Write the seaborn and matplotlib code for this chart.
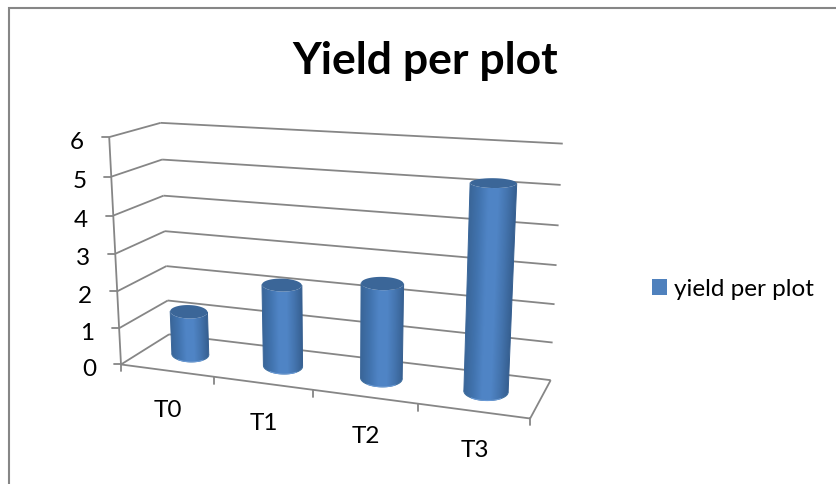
import numpy as np
import matplotlib
matplotlib.use("Agg")
import matplotlib.pyplot as plt
from matplotlib.colors import LinearSegmentedColormap
from matplotlib.patches import Patch, Polygon
import seaborn as sns

categories = ["T0", "T1", "T2", "T3"]
yield_per_plot = [1.2, 2.2, 2.5, 5.2]
value_ticks = [0, 1, 2, 3, 4, 5, 6]
series_name = "yield per plot"
chart_title = "Yield per plot"

sns.set_theme(style="white")
plt.rcParams["font.family"] = ["Lato", "DejaVu Sans"]

W, H = 836, 485
fig = plt.figure(figsize=(W / 100, H / 100), dpi=100, facecolor="white")

# Bar geometry comes from a seaborn barplot on a hidden value axes.
value_ax = fig.add_axes([0, 0, 1, 1])
sns.barplot(x=categories, y=yield_per_plot, width=0.41, ax=value_ax)
bars = [(p.get_x() + p.get_width() / 2 + 0.5, p.get_width() / 2, p.get_height())
        for p in value_ax.patches]
value_ax.set_visible(False)

ax = fig.add_axes([0, 0, 1, 1])
ax.axis("off")

# Camera: (category, value, depth) to canvas pixels, solved from the box corners.
anchors = [
    ((0, 0, 0), (121, 366)), ((4, 0, 0), (530, 419.3)),
    ((0, 0, 1), (169, 335)), ((4, 0, 1), (550.7, 381)),
    ((0, 6, 0), (109, 138.3)), ((0, 6, 1), (160.7, 124)),
    ((4, 6, 1), (562.7, 144.3)), ((4, 3, 1), (556.7, 266.7)),
    ((0, 3, 1), (165, 232.3)), ((0, 3, 0), (115.5, 254)),
    ((2, 0, 0), (312.7, 391)),
]
rows = []
for (a, b, c), (u, v) in anchors:
    rows.append([a, b, c, 1, 0, 0, 0, 0, -u * a, -u * b, -u * c, -u])
    rows.append([0, 0, 0, 0, a, b, c, 1, -v * a, -v * b, -v * c, -v])
camera = np.linalg.svd(np.array(rows, float))[2][-1].reshape(3, 4)


def project(x, v, d):
    x, v, d = np.broadcast_arrays(x, v, d)
    pts = np.stack([x, v, d, np.ones_like(x, dtype=float)])
    q = camera @ pts.reshape(4, -1)
    return np.stack([q[0] / q[2], q[1] / q[2]], axis=-1).reshape(x.shape + (2,))


GREY = "#868686"
LW = 1.3
LABEL_SIZE = 17.5


def edge(p, q, lw=LW, z=1):
    a, b = project(*p), project(*q)
    ax.plot([a[0], b[0]], [a[1], b[1]], color=GREY, lw=lw, zorder=z,
            solid_capstyle="butt")


n = len(categories)
top_value = value_ticks[-1]

# Chart-area border, open on the right and at the bottom.
ax.plot([8.5, 8.5, W], [H, 8.5, 8.5], color=GREY, lw=1.5, solid_joinstyle="miter")

# Walls and floor.
for v in value_ticks:
    edge((0, v, 0), (0, v, 1))
    edge((0, v, 1), (n, v, 1))
edge((0, 0, 0), (0, top_value, 0))
edge((0, 0, 0), (n, 0, 0))
edge((n, 0, 0), (n, 0, 1))

# Ticks and tick labels.
for v in value_ticks:
    x0, y0 = project(0, v, 0)
    ax.plot([x0 - 7, x0], [y0, y0], color=GREY, lw=LW)
    ax.text(x0 - 32, y0 + 4, str(v), fontsize=LABEL_SIZE, color="black",
            ha="center", va="center")
for i in range(n + 1):
    x0, y0 = project(i, 0, 0)
    ax.plot([x0, x0], [y0, y0 + 7], color=GREY, lw=LW)
for i, label in enumerate(categories):
    x0, y0 = project(i + 0.5, 0, 0)
    ax.text(x0 + 1.5, y0 + 39, label, fontsize=LABEL_SIZE, color="black",
            ha="center", va="center")


def ellipse(cx, rx, level, depth_r, theta):
    """Screen-space ring at a given value: nearly level, upright in depth."""
    centre = project(cx, level, 0.5)
    span = (project(cx + rx, level, 0.5) - project(cx - rx, level, 0.5)) / 2
    rise = abs(project(cx, level, 0.5 - depth_r)[1] - project(cx, level, 0.5 + depth_r)[1]) / 2
    return np.column_stack([centre[0] + span[0] * np.cos(theta),
                            centre[1] + 0.2 * span[1] * np.cos(theta) + rise * np.sin(theta)])


# Cylinders: a gradient image clipped to the body outline, then base rim and cap.
shade = LinearSegmentedColormap.from_list(
    "cylinder", ["#3a6699", "#4173ae", "#4f84c5", "#5085c6", "#4474ae", "#365f90"])
depth_r = 0.24
for cx, rx, height in bars:
    theta = np.linspace(np.pi, 0, 61)
    low = ellipse(cx, rx, 0, depth_r, theta)
    high = ellipse(cx, rx, height, depth_r, theta)
    cap = ellipse(cx, rx, height, depth_r, np.linspace(0, 2 * np.pi, 90))

    left_bottom, right_bottom = low[0], low[-1]
    left_top, right_top = high[0], high[-1]
    x0 = min(low[:, 0].min(), high[:, 0].min()) - 1
    x1 = max(low[:, 0].max(), high[:, 0].max()) + 1
    y0 = cap[:, 1].min() - 1
    y1 = low[:, 1].max() + 1
    gx, gy = np.meshgrid(np.linspace(x0, x1, 160), np.linspace(y0, y1, 160))
    f = (gy - left_top[1]) / (left_bottom[1] - left_top[1])
    left_x = left_top[0] + f * (left_bottom[0] - left_top[0])
    right_x = right_top[0] + f * (right_bottom[0] - right_top[0])
    across = np.clip((gx - left_x) / (right_x - left_x), 0, 1)
    image = ax.imshow(across, cmap=shade, vmin=0, vmax=1, extent=(x0, x1, y1, y0),
                      origin="upper", aspect="auto", interpolation="bilinear", zorder=3)
    outline = np.vstack([high[::-1], low])
    body = Polygon(outline, closed=True, transform=ax.transData, facecolor="none",
                   edgecolor="none")
    ax.add_patch(body)
    image.set_clip_path(body)
    ax.plot([low[0, 0], high[0, 0]], [low[0, 1], high[0, 1]], color="#3a6699", lw=0.7, zorder=3.2)
    ax.plot([low[-1, 0], high[-1, 0]], [low[-1, 1], high[-1, 1]], color="#365f90", lw=0.7, zorder=3.2)
    # Soft highlight only along the middle of the base.
    ax.plot(low[:, 0], low[:, 1], color="#41709f", lw=0.7, zorder=3.4)
    ax.plot(low[16:45, 0], low[16:45, 1], color="#6a9ad6", lw=0.8, zorder=3.5)
    ax.fill(cap[:, 0], cap[:, 1], color="#3b6698", lw=0, zorder=4)

ax.set_xlim(0, W)
ax.set_ylim(H, 0)

ax.text(425, 61, chart_title, fontsize=32, fontweight="bold", color="black",
        ha="center", va="center")

legend = ax.legend(handles=[Patch(facecolor="#4f81bd", edgecolor="none", label=series_name)],
                   loc="center left", bbox_to_anchor=(630 / W, 1 - 290 / H),
                   bbox_transform=fig.transFigure, frameon=False, fontsize=LABEL_SIZE,
                   handlelength=0.62, handleheight=0.62, handletextpad=0.3,
                   labelcolor="black")

fig.savefig("out.png", dpi=100)
